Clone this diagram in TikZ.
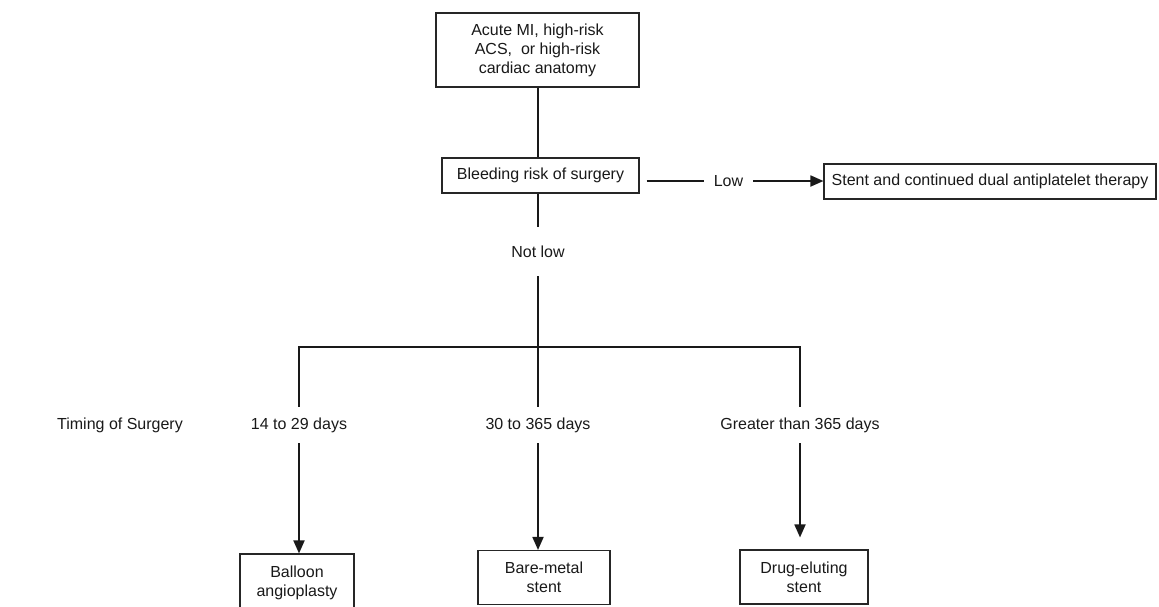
\documentclass[tikz,border=0pt]{standalone}
\usepackage{fontspec}
\setmainfont{Liberation Sans}
\usetikzlibrary{arrows.meta}
\begin{document}
\begin{tikzpicture}[x=1pt,y=-1pt,
  every node/.style={font=\fontsize{16}{19}\selectfont, text=black!90, inner sep=0pt, align=center},
  box/.style={draw=black!85, line width=1.1pt, fill=white},
  lbl/.style={},
  conn/.style={draw=black!90, line width=1.8pt},
  arr/.style={conn, -{Triangle[length=13pt,width=11pt]}}]
\useasboundingbox (0,0) rectangle (1159,606);
% boxes
\node[box, minimum width=203pt, minimum height=74pt] (top) at (537.5,50) {Acute MI, high-risk\\ACS,\ \ or high-risk\\cardiac anatomy};
\node[box, minimum width=197pt, minimum height=35pt] (bleed) at (540.5,175.5) {Bleeding risk of surgery};
\node[box, minimum width=332pt, minimum height=35pt] (stent) at (990,181.5) {Stent and continued dual antiplatelet therapy};
\node[box, minimum width=114pt, minimum height=57pt] (balloon) at (297,582.5) {Balloon\\angioplasty};
\node[box, minimum width=132pt, minimum height=54pt] (bare) at (544,577.5) {Bare-metal\\stent};
\node[box, minimum width=128pt, minimum height=54pt] (drug) at (804,577) {Drug-eluting\\stent};
% labels
\node[lbl, minimum width=49pt, minimum height=20pt] (low) at (728.5,181) {Low};
\node[lbl, minimum height=49pt] (notlow) at (538,251.5) {Not low};
\node[lbl] (timing) at (120,425) {Timing of Surgery};
\node[lbl, minimum height=36pt] (t1) at (299,425) {14 to 29 days};
\node[lbl, minimum height=36pt] (t2) at (538,425) {30 to 365 days};
\node[lbl, minimum height=36pt] (t3) at (800,425) {Greater than 365 days};
% junction coordinates
\coordinate (j) at (538,347);
\coordinate (jl) at (299,347);
\coordinate (jr) at (800,347);
% connectors
\draw[conn] (top.south -| notlow) -- (bleed.north -| notlow);
\draw[conn] (bleed.south -| notlow) -- (notlow.north);
\draw[conn] (notlow.south) -- (j);
\draw[conn, line cap=rect] (jl) -- (jr);
\draw[conn] (jl) -- (t1.north);
\draw[conn] (j) -- (t2.north);
\draw[conn] (jr) -- (t3.north);
\draw[conn, shorten <=7pt] (bleed.east |- low.west) -- (low.west);
\draw[arr] (low.east) -- (stent.west |- low.east);
\draw[arr] (t1.south) -- (t1.south |- balloon.north);
\draw[arr] (t2.south) -- (t2.south |- bare.north);
\draw[arr, shorten >=12pt] (t3.south) -- (t3.south |- drug.north);
\end{tikzpicture}
\end{document}
